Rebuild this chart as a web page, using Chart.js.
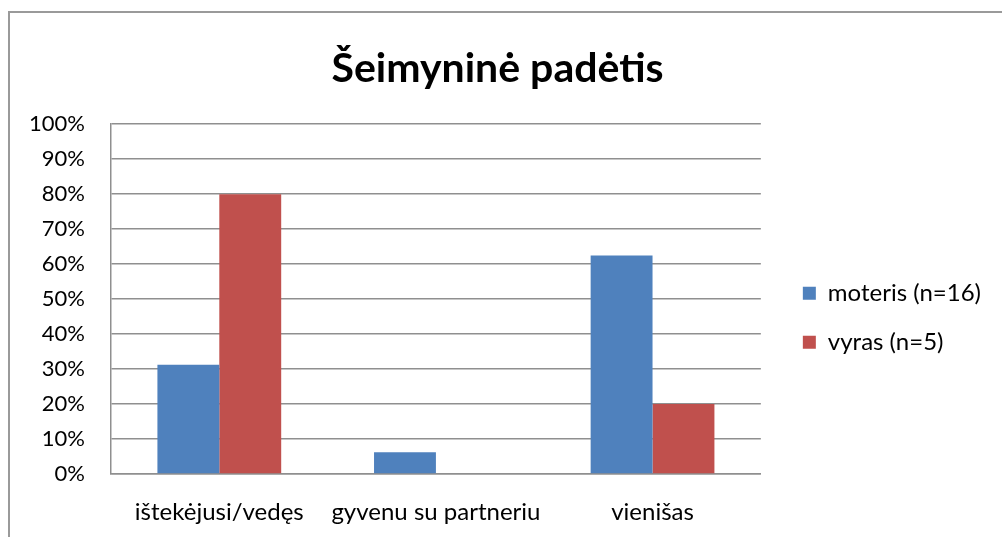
<!DOCTYPE html>
<html><head><meta charset="utf-8">
<script src="https://cdn.jsdelivr.net/npm/chart.js@4"></script>
<style>
html,body{margin:0;padding:0;background:#fff;overflow:hidden;}
#wrap{position:relative;width:1002px;height:537px;}
#frame{position:absolute;left:8px;top:11px;width:1100px;height:700px;border:2px solid #9a9a9a;box-sizing:border-box;}
canvas{position:absolute;left:0;top:0;}
</style></head><body>
<div id="wrap"><div id="frame"></div><canvas id="c" width="1002" height="537"></canvas></div>
<script>
const categories = ['ištekėjusi/vedęs', 'gyvenu su partneriu', 'vienišas'];
const seriesLabels = ['moteris (n=16)', 'vyras (n=5)'];
const moteris = [31.25, 6.25, 62.5];
const vyras = [80, 0, 20];
const yTickValues = [0, 10, 20, 30, 40, 50, 60, 70, 80, 90, 100];
const chartTitle = 'Šeimyninė padėtis';

const FONT = 'Lato, "Open Sans", sans-serif';
const GRID = '#8f8f8f';

const legendNudge = {
  id: 'legendNudge',
  afterLayout(chart) {
    const l = chart.legend;
    const dx = 17, dy = 132;
    l.left += dx; l.right += dx; l.top += dy; l.bottom += dy;
  }
};

new Chart(document.getElementById('c'), {
  type: 'bar',
  data: {
    labels: categories,
    datasets: [
      { label: seriesLabels[0], data: moteris, backgroundColor: '#4F81BD', borderWidth: 0 },
      { label: seriesLabels[1], data: vyras, backgroundColor: '#C0504D', borderWidth: 0 }
    ]
  },
  options: {
    responsive: false,
    animation: false,
    devicePixelRatio: 1,
    layout: { padding: { left: 21, right: 28, top: 0, bottom: 0 } },
    datasets: { bar: { categoryPercentage: 2 / 3.5, barPercentage: 1 } },
    plugins: {
      tooltip: { enabled: false },
      title: {
        display: true, text: chartTitle, color: '#000',
        font: { family: FONT, size: 41, weight: 'bold' },
        padding: { top: 44, bottom: 31 }
      },
      legend: {
        position: 'right', align: 'start', fullSize: false,
        labels: {
          boxWidth: 13, boxHeight: 13, padding: 25, color: '#000',
          font: { family: FONT, size: 24 }
        }
      }
    },
    scales: {
      x: {
        grid: { display: false, drawTicks: false },
        border: { display: true, color: GRID, width: 1.5 },
        ticks: { color: '#000', font: { family: FONT, size: 24 }, padding: 24, maxRotation: 0 },
        afterFit(s) { s.height = 63; }
      },
      y: {
        min: 0, max: 100,
        afterBuildTicks(s) { s.ticks = yTickValues.map(v => ({ value: v })); },
        grid: { color: GRID, lineWidth: 1.5, drawTicks: false },
        border: { display: true, color: GRID, width: 1.5 },
        ticks: { color: '#000', font: { family: FONT, size: 22 }, padding: 26, callback: v => v + '%' },
        afterFit(s) { s.width = 90; }
      }
    }
  },
  plugins: [legendNudge]
});
</script>
</body></html>
